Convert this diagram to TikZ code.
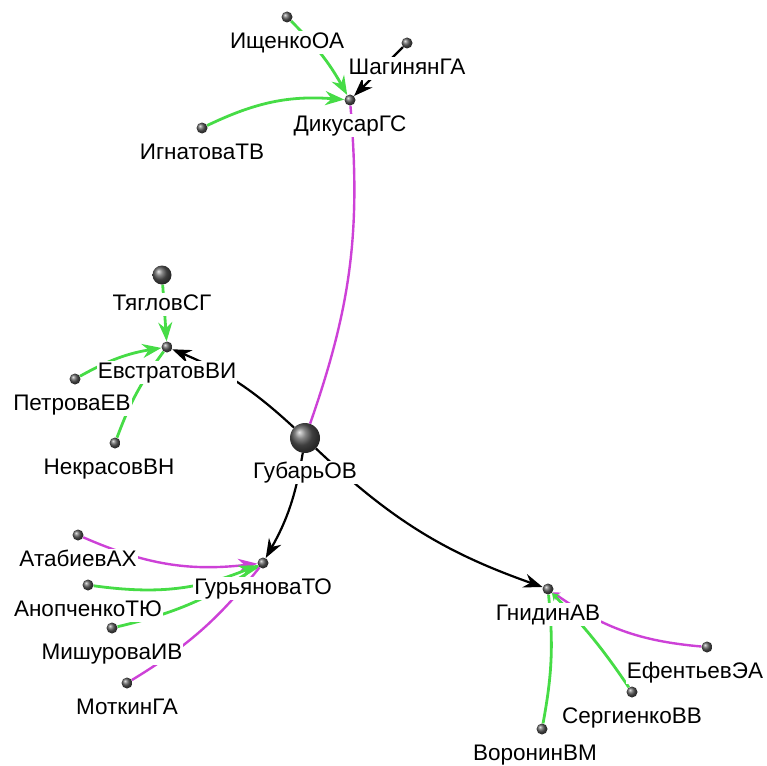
\documentclass[tikz,border=0pt]{standalone}
\usepackage{fontspec}
\setmainfont{Liberation Sans}
\usetikzlibrary{arrows.meta,backgrounds}

\definecolor{salat}{RGB}{70,220,70}
\definecolor{fiolet}{RGB}{205,65,215}

\begin{document}
\begin{tikzpicture}[
    x=1pt, y=-1pt, % пиксельные координаты
    >={Stealth[length=19pt,width=14pt]},
    shar/.style={circle, inner sep=0pt, minimum size=11pt, ball color=black!65},
    uzel/.style={shar, label={[fio]below:#1}},
    fio/.style={fill=white, inner sep=1pt, text height=16.5pt, text depth=4.5pt,
        yshift=-8pt, font=\fontsize{22.5pt}{27pt}\selectfont},
    chern/.style={draw=black, line width=2.2pt},
    zel/.style={draw=salat, line width=2.8pt},
    rozov/.style={draw=fiolet, line width=2.4pt}
]
\useasboundingbox (0,0) rectangle (767,765);

% ========== узлы ==========
\node[uzel=ГубарьОВ, minimum size=30pt] (gubar) at (305,438) {}; % центр
\node[uzel=ДикусарГС] (dikusar) at (350,100) {};
\node[uzel=ИщенкоОА] (ishchenko) at (287,17) {};
\node[uzel=ШагинянГА] (shaginyan) at (407,43) {};
\node[uzel=ИгнатоваТВ] (ignatova) at (202,128) {};

\node[uzel=ЕвстратовВИ] (evstratov) at (167,347) {};
\node[uzel=ТягловСГ, minimum size=19pt] (tyaglov) at (162,275) {};
\node[shar, label={[fio,xshift=-3pt]below:ПетроваЕВ}] (petrova) at (75,379) {};
\node[shar, label={[fio,xshift=-6pt]below:НекрасовВН}] (nekrasov) at (115,443) {};

\node[uzel=ГурьяноваТО] (guryanova) at (263,563) {};
\node[uzel=АтабиевАХ] (atabiev) at (78,535) {};
\node[uzel=АнопченкоТЮ] (anopchenko) at (88,585) {};
\node[uzel=МишуроваИВ] (mishurova) at (112,628) {};
\node[uzel=МоткинГА] (motkin) at (127,683) {};

\node[uzel=ГнидинАВ] (gnidin) at (548,589) {};
\node[shar, label={[fio,xshift=-12pt]below:ЕфентьевЭА}] (efentiev) at (707,647) {};
\node[uzel=СергиенкоВВ] (sergienko) at (632,692) {};
\node[shar, label={[fio,xshift=-7pt]below:ВоронинВМ}] (voronin) at (542,729) {};

% ========== связи (под подписями) ==========
\begin{scope}[on background layer]
    % верхняя группа
    \draw[zel,->] (ishchenko) to[bend left=8] (dikusar);
    \draw[chern,->] (shaginyan) -- (dikusar);
    \draw[zel,->] (ignatova) to[bend left=15] (dikusar);
    \draw[rozov] (dikusar) to[bend left=12] (gubar);

    % левая группа
    \draw[zel,->] (tyaglov) -- (evstratov);
    \draw[zel,->] (petrova) to[bend left=10] (evstratov);
    \draw[zel] (nekrasov) to[bend left=8] (evstratov);
    \draw[chern,->] (gubar) to[bend right=10] (evstratov);

    % нижняя левая группа
    \draw[chern,->] (gubar) to[bend left=10] (guryanova);
    \draw[rozov,->] (atabiev) to[bend right=15] (guryanova);
    \draw[zel,->] (anopchenko) to[bend right=15] (guryanova);
    \draw[zel] (mishurova) to[bend right=10] (guryanova);
    \draw[rozov] (motkin) to[bend right=10] (guryanova);

    % правая группа
    \draw[chern,->] (gubar) to[bend right=12] (gnidin);
    \draw[rozov,-{Stealth[length=7pt,width=9pt]}] (efentiev) to[bend left=15] (gnidin);
    \draw[zel,-{Stealth[length=7pt,width=9pt]}] (sergienko) to[bend right=5] (gnidin);
    \draw[zel] (voronin) to[bend right=8] (gnidin);
\end{scope}

\end{tikzpicture}
\end{document}
